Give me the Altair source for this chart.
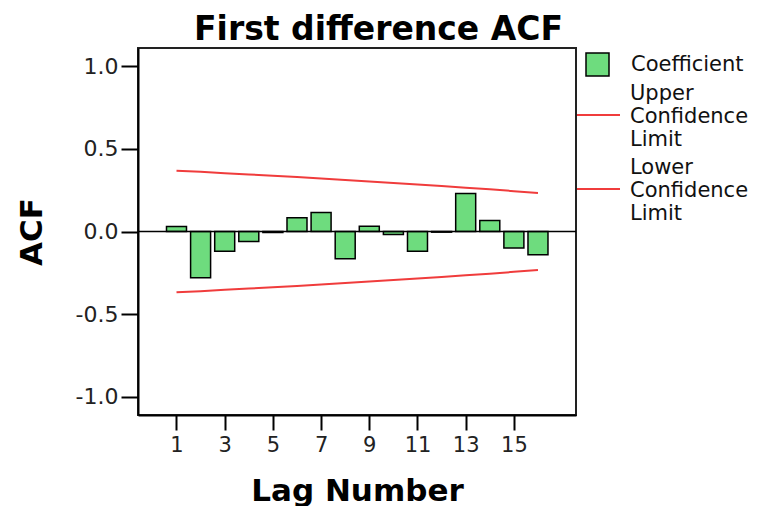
import altair as alt
import pandas as pd

lags = list(range(1, 17))
acf = [0.030, -0.280, -0.120, -0.060, -0.006, 0.083, 0.115, -0.165,
       0.032, -0.018, -0.120, -0.004, 0.230, 0.066, -0.100, -0.140]
upper = [0.368, 0.361, 0.353, 0.345, 0.337, 0.329, 0.321, 0.312,
         0.303, 0.294, 0.285, 0.275, 0.265, 0.255, 0.244, 0.233]
lower = [-0.368, -0.361, -0.353, -0.345, -0.337, -0.329, -0.321, -0.312,
         -0.303, -0.294, -0.285, -0.275, -0.265, -0.255, -0.244, -0.233]
x_ticks = [1, 3, 5, 7, 9, 11, 13, 15]
y_ticks = [-1.0, -0.5, 0.0, 0.5, 1.0]
series_names = ["Upper Confidence Limit", "Lower Confidence Limit"]

bars_df = pd.DataFrame({"lag": lags, "acf": acf, "kind": ["Coefficient"] * len(lags)})
upper_df = pd.DataFrame({"lag": lags, "value": upper, "series": [series_names[0]] * len(lags)})
lower_df = pd.DataFrame({"lag": lags, "value": lower, "series": [series_names[1]] * len(lags)})
zero_df = pd.DataFrame({"zero": [0.0]})

FONT = "DejaVu Sans"
RED = "#f03c3c"
x_scale = alt.Scale(domain=[-0.39, 17.37], nice=False, zero=False)
y_scale = alt.Scale(domain=[-1.11, 1.11], nice=False)

x_axis = alt.Axis(values=x_ticks, format="d", title="Lag Number", tickSize=15,
                  labelPadding=4, titlePadding=21, grid=False, labelFontSize=21)
y_axis = alt.Axis(values=y_ticks, title="ACF", tickSize=17,
                  labelExpr="replace(format(datum.value, '.1f'), '\u2212', '-')",
                  labelPadding=3, titlePadding=27, grid=False, labelFontSize=22)

bars = alt.Chart(bars_df).mark_bar(size=20, stroke="black", strokeWidth=1.5).encode(
    x=alt.X("lag:Q", scale=x_scale, axis=x_axis),
    y=alt.Y("acf:Q", scale=y_scale, axis=y_axis),
    y2=alt.datum(0),
    fill=alt.Fill("kind:N", scale=alt.Scale(domain=["Coefficient"], range=["#6edc7e"]),
                  legend=alt.Legend(title=None, orient="none", legendX=447, legendY=4,
                                    symbolType="square", symbolSize=529,
                                    symbolStrokeColor="black", symbolStrokeWidth=1.5,
                                    labelFont=FONT, labelFontSize=21, labelColor="#111",
                                    labelOffset=21, padding=0)),
)

zero_rule = alt.Chart(zero_df).mark_rule(color="black", strokeWidth=1.5).encode(
    y=alt.Y("zero:Q", scale=y_scale, axis=y_axis),
)


def limit_line(df, name, legend_y):
    return alt.Chart(df).mark_line(strokeWidth=2).encode(
        x=alt.X("lag:Q", scale=x_scale, axis=x_axis),
        y=alt.Y("value:Q", scale=y_scale, axis=y_axis),
        stroke=alt.Stroke("series:N",
                          scale=alt.Scale(domain=[name], range=[RED]),
                          legend=alt.Legend(title=None, orient="none", legendX=438,
                                            legendY=legend_y,
                                            symbolType="M-1,1H1", symbolSize=1849,
                                            symbolStrokeWidth=2,
                                            labelExpr="split(datum.label, ' ')",
                                            labelFont=FONT, labelFontSize=21,
                                            labelColor="#111", labelOffset=9,
                                            labelLimit=400, padding=0)),
    )


upper_line = limit_line(upper_df, series_names[0], 23)
lower_line = limit_line(lower_df, series_names[1], 97)

chart = alt.layer(bars, zero_rule, upper_line, lower_line).resolve_scale(
    stroke="independent"
).resolve_legend(
    stroke="independent"
).properties(
    width=438,
    height=367,
    title=alt.TitleParams("First difference ACF", font=FONT, fontSize=33,
                          fontWeight="bold", anchor="middle", frame="bounds",
                          offset=1, dx=-4, color="black"),
    padding={"left": 8, "top": 6, "right": 0, "bottom": 0},
).configure_view(
    stroke="#222", strokeWidth=2
).configure_axis(
    domainColor="black", domainWidth=2, tickColor="black", tickWidth=2,
    labelFont=FONT, labelColor="#222",
    titleFont=FONT, titleFontSize=31, titleFontWeight="bold", titleColor="black",
)

chart.save("out.html", embed_options={"renderer": "svg", "actions": False})
